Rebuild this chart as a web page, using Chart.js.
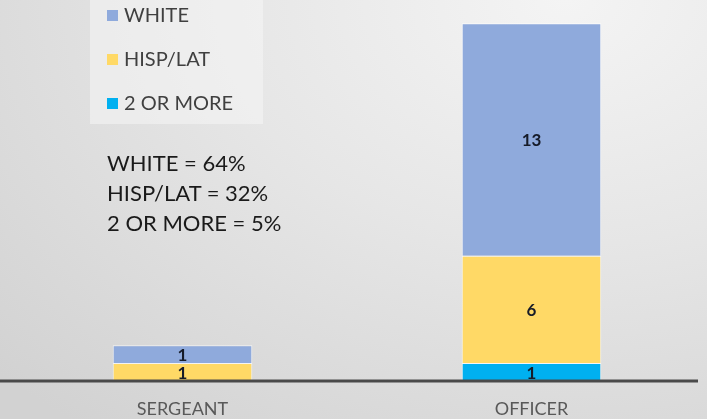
<!DOCTYPE html>
<html>
<head>
<meta charset="utf-8">
<script src="https://cdn.jsdelivr.net/npm/chart.js@4"></script>
<style>
  html, body { margin: 0; padding: 0; }
  body {
    width: 707px; height: 419px; overflow: hidden; position: relative;
    background: radial-gradient(ellipse 110% 130% at 80% 0%, #f4f4f4 0%, #e6e6e6 45%, #d2d2d2 100%);
    font-family: Lato, "Open Sans", sans-serif;
  }
  #wrap { position: absolute; left: 0; top: 0; width: 707px; height: 419px; }
  #legend {
    position: absolute; left: 90px; top: 0; width: 173px; height: 124px;
    background: rgba(245, 245, 245, 0.55);
  }
  .item { position: absolute; left: 17px; font-size: 20px; color: #404040; line-height: 22px; }
  .item span.sw { display: inline-block; width: 11px; height: 11px; margin-right: 6px; vertical-align: 1px; }
  #note { position: absolute; left: 107px; top: 148px; font-size: 22px; line-height: 30px; color: #1a1a1a; }
</style>
</head>
<body>
<div id="wrap"><canvas id="grafico" width="707" height="419"></canvas></div>
<div id="legend"></div>
<div id="note"></div>
<script>
// datos del grafico
var categorias = ['SERGEANT', 'OFFICER'];
var series = ['2 OR MORE', 'HISP/LAT', 'WHITE'];
var dosOMas = [0, 1];
var hispLat = [1, 6];
var blancos = [1, 13];
var colores = ['#00b0f0', '#ffd966', '#8faadc'];
var notas = ['WHITE = 64%', 'HISP/LAT = 32%', '2 OR MORE = 5%'];
var ordenLeyenda = ['WHITE', 'HISP/LAT', '2 OR MORE'];

var valores = [dosOMas, hispLat, blancos];

// leyenda y nota en html
var leyenda = document.getElementById('legend');
ordenLeyenda.forEach(function(nombre, i) {
    var idx = series.indexOf(nombre);
    var d = document.createElement('div');
    d.className = 'item';
    d.style.top = (3 + i * 44) + 'px';
    d.innerHTML = '<span class="sw" style="background:' + colores[idx] + '"></span>' + nombre;
    leyenda.appendChild(d);
});
document.getElementById('note').innerHTML = notas.join('<br>');

// linea del eje, nombres de categorias y etiquetas de valores
var extras = {
    id: 'extras',
    afterDatasetsDraw: function(chart) {
        var ctx = chart.ctx;
        var y = chart.scales.y.getPixelForValue(0);
        ctx.save();
        ctx.strokeStyle = '#4a4a4a';
        ctx.lineWidth = 3;
        ctx.beginPath();
        ctx.moveTo(0, y);
        ctx.lineTo(698, y);
        ctx.stroke();

        // nombres de categorias
        ctx.fillStyle = '#595959';
        ctx.font = '18px Lato, sans-serif';
        ctx.textAlign = 'center';
        ctx.textBaseline = 'middle';
        chart.data.labels.forEach(function(lab, j) {
            ctx.fillText(lab, chart.scales.x.getPixelForValue(j), 409);
        });

        ctx.fillStyle = '#161b28';
        ctx.font = 'bold 17px Lato, sans-serif';
        chart.data.datasets.forEach(function(ds, i) {
            var meta = chart.getDatasetMeta(i);
            meta.data.forEach(function(bar, j) {
                if (!ds.data[j]) return;
                var yc = (bar.y + bar.base) / 2;
                ctx.fillText(String(ds.data[j]), bar.x, yc + 1);
            });
        });
        ctx.restore();
    }
};

var ctx = document.getElementById('grafico').getContext('2d');
var miGrafico = new Chart(ctx, {
    type: 'bar',
    data: {
        labels: categorias,
        datasets: series.map(function(s, i) {
            return {
                label: s,
                data: valores[i],
                backgroundColor: colores[i],
                borderColor: 'rgba(255,255,255,0.7)',
                borderWidth: 1,
                barPercentage: 0.8,
                categoryPercentage: 0.5
            };
        })
    },
    options: {
        responsive: false,
        animation: false,
        layout: { padding: { left: 8, right: 1, top: 0, bottom: 38 } },
        plugins: { legend: { display: false }, tooltip: { enabled: false } },
        scales: {
            x: {
                stacked: true,
                display: false
            },
            y: {
                stacked: true,
                display: false,
                min: 0,
                max: 21.3
            }
        }
    },
    plugins: [extras]
});
</script>
</body>
</html>
